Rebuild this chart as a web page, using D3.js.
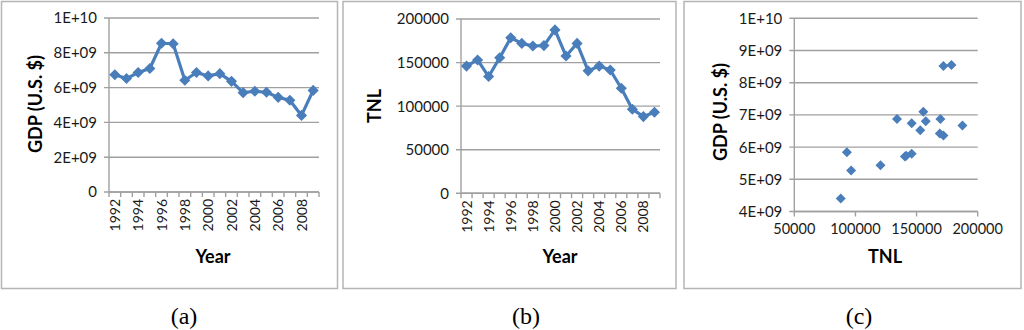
<!DOCTYPE html>
<html><head><meta charset="utf-8">
<script src="https://cdn.jsdelivr.net/npm/d3@7"></script>
<style>body{margin:0;background:#fff}svg{display:block}</style></head>
<body><svg id="c" width="1024" height="330"></svg>
<script>
const years = [1992,1993,1994,1995,1996,1997,1998,1999,2000,2001,2002,2003,2004,2005,2006,2007,2008,2009];
const tnl = [146000,153000,134000,155500,178500,172000,169000,169500,187500,157500,172000,140500,146000,141500,120500,96500,88000,93000];
const gdp = [6.74e9,6.52e9,6.87e9,7.1e9,8.55e9,8.52e9,6.42e9,6.87e9,6.67e9,6.8e9,6.36e9,5.71e9,5.79e9,5.73e9,5.44e9,5.27e9,4.4e9,5.84e9];
const gdpTicks = [0,2e9,4e9,6e9,8e9,1e10];
const tnlTicks = [0,50000,100000,150000,200000];
const scatterGdpTicks = [4e9,5e9,6e9,7e9,8e9,9e9,1e10];
const scatterTnlTicks = [50000,100000,150000,200000];
const yearLabels = [1992,1994,1996,1998,2000,2002,2004,2006,2008];
const captions = ["(a)","(b)","(c)"];

const svg = d3.select("#c");
const FONT = "Lato, 'Open Sans', sans-serif";
const BLUE = "#4a7ebb";
const GRID = "#a0a0a0";
const TXT = "#1a1a1a";

function sci(v){
  if(v===0) return "0";
  const e = Math.floor(Math.log10(v)+1e-9);
  const m = Math.round(v/Math.pow(10,e));
  return m+"E+"+String(e).padStart(2,"0");
}

// frames
const frames = [[1.5,1.5,336,287],[343,1.5,333,287],[684,1.5,337,287]];
frames.forEach(f=>{
  svg.append("rect").attr("x",f[0]).attr("y",f[1]).attr("width",f[2]).attr("height",f[3])
    .attr("fill","none").attr("stroke","#b5b5b5").attr("stroke-width",1.5);
});

function yAxis(g, y, ticks, x0, x1, fmt){
  ticks.forEach(t=>{
    g.append("line").attr("x1",x0-5).attr("x2",x1).attr("y1",y(t)).attr("y2",y(t))
      .attr("stroke",GRID).attr("stroke-width",1.4);
    g.append("text").attr("x",x0-12).attr("y",y(t)).attr("dy","0.36em")
      .attr("text-anchor","end").attr("font-family",FONT).attr("font-size",15)
      .attr("fill",TXT).text(fmt(t));
  });
  g.append("line").attr("x1",x0).attr("x2",x0).attr("y1",y.range()[0]).attr("y2",y.range()[1])
    .attr("stroke",GRID).attr("stroke-width",1.4);
}

function title(g, txt, x, y, rot){
  const t = g.append("text").attr("font-family",FONT).attr("font-weight","bold")
    .attr("font-size",18).attr("fill","#000").attr("text-anchor","middle").text(txt);
  if(rot) t.attr("transform",`translate(${x},${y}) rotate(-90)`).attr("dy","0.35em");
  else t.attr("x",x).attr("y",y);
}

function linePanel(vals, yDomain, yTicks, fmt, xr, yr, ytitle, ytx, yty, xtx){
  const g = svg.append("g");
  const x = d3.scaleBand().domain(years).range(xr).padding(0);
  const y = d3.scaleLinear().domain(yDomain).range(yr);
  yAxis(g, y, yTicks, xr[0], xr[1], fmt);
  const y0 = yr[0];
  g.append("line").attr("x1",xr[0]).attr("x2",xr[1]).attr("y1",y0).attr("y2",y0)
    .attr("stroke",GRID).attr("stroke-width",1.4);
  years.forEach(yr_=>{
    g.append("line").attr("x1",x(yr_)).attr("x2",x(yr_)).attr("y1",y0).attr("y2",y0+5)
      .attr("stroke",GRID).attr("stroke-width",1.4);
  });
  g.append("line").attr("x1",xr[1]).attr("x2",xr[1]).attr("y1",y0).attr("y2",y0+5)
    .attr("stroke",GRID).attr("stroke-width",1.4);
  yearLabels.forEach(l=>{
    const cx = x(l)+x.bandwidth()/2;
    g.append("text").attr("transform",`translate(${cx},${y0+7}) rotate(-90)`)
      .attr("dy","0.36em").attr("text-anchor","end").attr("font-family",FONT)
      .attr("font-size",14).attr("fill",TXT).text(l);
  });
  const line = d3.line().x((d,i)=>x(years[i])+x.bandwidth()/2).y(d=>y(d));
  g.append("path").datum(vals).attr("d",line).attr("fill","none")
    .attr("stroke",BLUE).attr("stroke-width",3.2).attr("stroke-linejoin","round");
  const sym = d3.symbol().type(d3.symbolSquare).size(62);
  g.selectAll(".m").data(vals).enter().append("path")
    .attr("d",sym).attr("fill",BLUE)
    .attr("transform",(d,i)=>`translate(${x(years[i])+x.bandwidth()/2},${y(d)}) rotate(45)`);
  title(g, ytitle, ytx, yty, true);
  title(g, "Year", xtx, 263, false);
}

linePanel(gdp,[0,1e10],gdpTicks,sci,[109,319],[192,18],"GDP (U.S. $)",36,104,213);
linePanel(tnl,[0,200000],tnlTicks,d=>String(d),[461,660],[193.3,19],"TNL",375,106,560);

// scatter
(function(){
  const g = svg.append("g");
  const x = d3.scaleLinear().domain([50000,200000]).range([794.3,977.7]);
  const y = d3.scaleLinear().domain([4e9,1e10]).range([211.5,18.3]);
  yAxis(g, y, scatterGdpTicks, 794.3, 977.7, sci);
  g.append("line").attr("x1",794.3).attr("x2",977.7).attr("y1",211.5).attr("y2",211.5)
    .attr("stroke",GRID).attr("stroke-width",1.4);
  scatterTnlTicks.forEach(t=>{
    g.append("line").attr("x1",x(t)).attr("x2",x(t)).attr("y1",211.5).attr("y2",216.5)
      .attr("stroke",GRID).attr("stroke-width",1.4);
    g.append("text").attr("x",x(t)).attr("y",234).attr("text-anchor","middle")
      .attr("font-family",FONT).attr("font-size",14.5).attr("fill",TXT).text(t);
  });
  const sym = d3.symbol().type(d3.symbolSquare).size(50);
  g.selectAll(".s").data(tnl).enter().append("path").attr("d",sym).attr("fill",BLUE)
    .attr("transform",(d,i)=>`translate(${x(d)},${y(gdp[i])}) rotate(45)`);
  title(g, "GDP (U.S. $)", 721, 112, true);
  title(g, "TNL", 885, 263, false);
})();

// captions
[[184,captions[0]],[526,captions[1]],[859,captions[2]]].forEach(c=>{
  svg.append("text").attr("x",c[0]).attr("y",324).attr("text-anchor","middle")
    .attr("font-family","'Liberation Serif', 'Times New Roman', serif").attr("font-size",24)
    .attr("fill","#000").text(c[1]);
});
</script></body></html>
